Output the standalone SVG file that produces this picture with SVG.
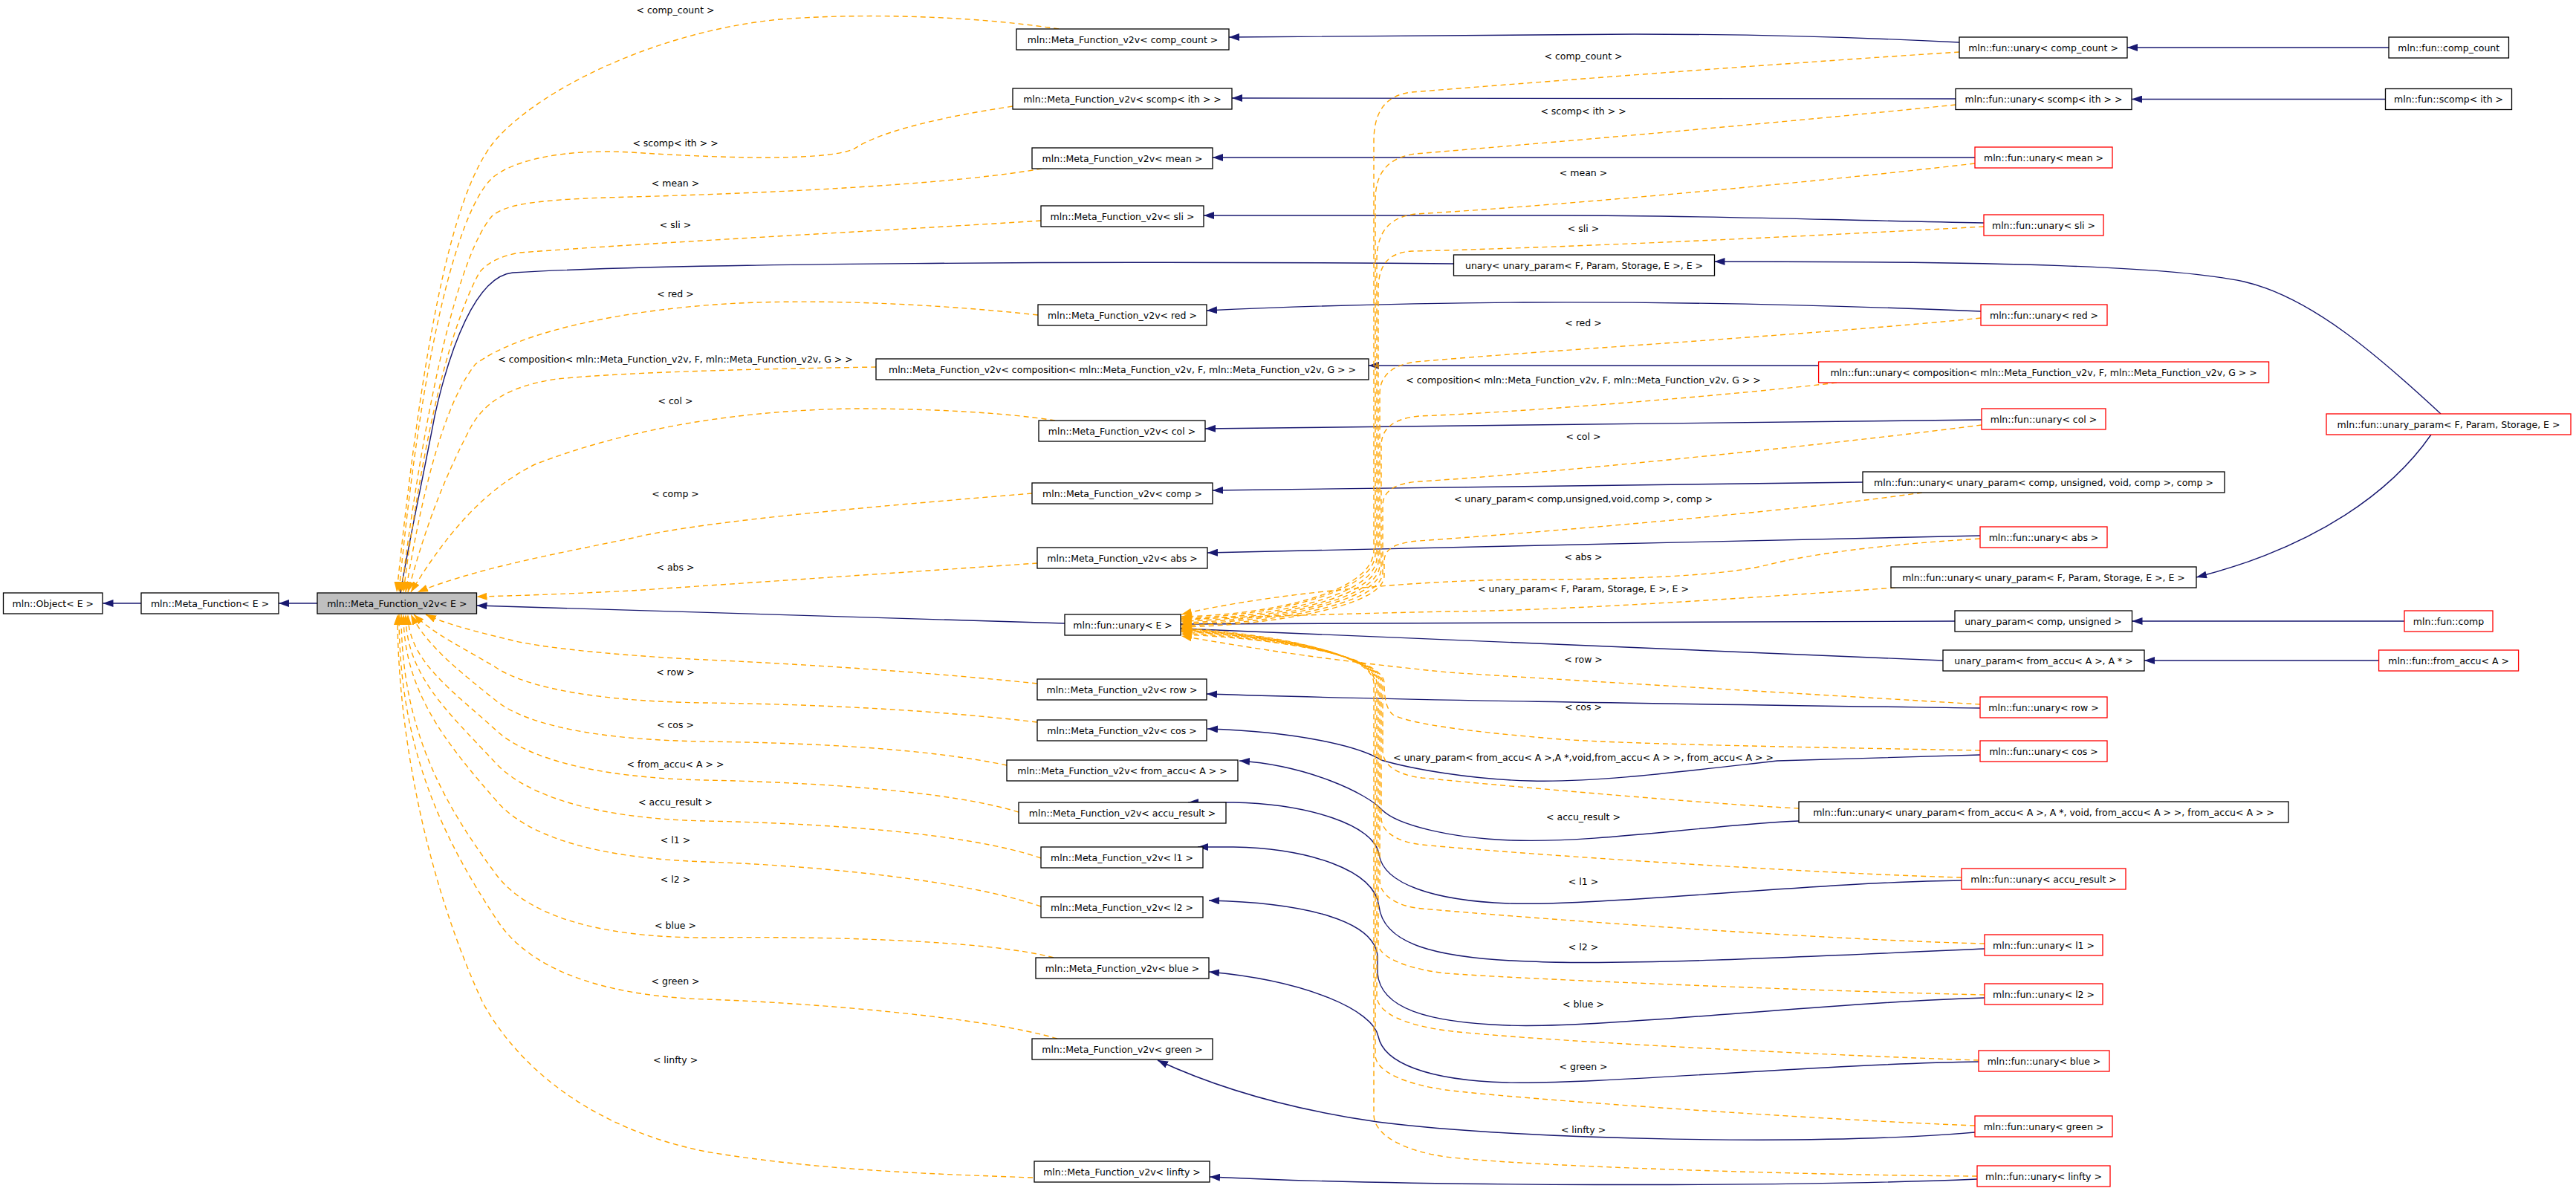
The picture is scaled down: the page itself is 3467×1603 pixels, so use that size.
<svg xmlns="http://www.w3.org/2000/svg" width="3467" height="1603" viewBox="0 0 3467 1603">
<style>
.n rect{fill:#fff;stroke:#000;stroke-width:1.3}
.n.r rect{stroke:#ff0000}
.n.g rect{fill:#bfbfbf}
text{font-family:"DejaVu Sans","Liberation Sans",sans-serif;font-size:12.5px;fill:#000;text-anchor:middle}
.b{fill:none;stroke:#191970;stroke-width:1.4;marker-end:url(#ab)}
.t{fill:none;stroke:#ffa500;stroke-width:1.4;stroke-dasharray:7,5;marker-end:url(#ao)}
</style>
<defs>
<marker id="ab" markerWidth="14" markerHeight="10" refX="14" refY="5" orient="auto" markerUnits="userSpaceOnUse"><path d="M0,0 L14,5 L0,10 z" fill="#191970"/></marker>
<marker id="ao" markerWidth="14" markerHeight="10" refX="14" refY="5" orient="auto" markerUnits="userSpaceOnUse"><path d="M0,0 L14,5 L0,10 z" fill="#ffa500"/></marker>
</defs>
<rect width="3467" height="1603" fill="#fff"/>
<g id="edges">
<path class="b" d="M190,812 L138.5,812"/>
<path class="b" d="M427,812 L375,812"/>
<path class="b" d="M1433,839 L641.5,815"/>
<path class="b" d="M1956.5,355 C1500,351 900,354 690,367 C640,372 605,470 585,560 C570,640 548,740 539,798"/>
<path class="b" d="M2637,57 C2500,50 2350,46 2200,46 L1654,50"/>
<path class="b" d="M2632,133 L1658,132"/>
<path class="b" d="M2658,212 L1632,212"/>
<path class="b" d="M2670,300 C2450,296 2300,290 2100,290 L1620,290"/>
<path class="b" d="M2666,419 C2450,410 2250,406 2050,407 C1900,408 1750,412 1624,418"/>
<path class="b" d="M2447.6,492 L1842,492"/>
<path class="b" d="M2667,565 L1622,577"/>
<path class="b" d="M2507,649 L1632,660"/>
<path class="b" d="M2665,721 L1625,744"/>
<path class="b" d="M3285,557 C3200,478 3110,400 3020,379 C2920,358 2700,352 2307.5,352"/>
<path class="b" d="M3272,585 C3220,660 3120,735 2956,777"/>
<path class="b" d="M3236,836 L2869.5,836"/>
<path class="b" d="M3201.6,889 L2886,889"/>
<path class="b" d="M3215,64 L2863,64"/>
<path class="b" d="M3210.5,133.5 L2869,133.5"/>
<path class="b" d="M2631,836 L1589,840"/>
<path class="b" d="M2615,889 L1589,846"/>
<path class="b" d="M2665,953 C2300,948 1900,943 1624,934"/>
<path class="b" d="M2665,1016 L2392,1024 C2250,1040 2150,1053 2060,1051 C1980,1049 1900,1035 1859,1023 C1830,1005 1750,985 1625,981"/>
<path class="b" d="M2421,1105 C2300,1110 2150,1135 2035,1131 C1950,1128 1880,1110 1860,1090 C1840,1068 1760,1030 1668,1024"/>
<path class="b" d="M2640,1185 C2450,1187 2150,1220 2030,1216 C1930,1212 1862,1190 1856,1150 C1850,1110 1760,1082 1660,1080 L1599,1080"/>
<path class="b" d="M2671,1277 C2450,1287 2180,1300 2060,1294 C1930,1290 1862,1270 1856,1220 C1850,1170 1760,1142 1660,1140 L1612,1140"/>
<path class="b" d="M2671,1343 C2450,1350 2150,1385 2028,1380 C1920,1376 1858,1357 1854,1310 L1854,1287 C1850,1240 1760,1215 1627,1212"/>
<path class="b" d="M2663,1429 C2450,1432 2150,1460 2028,1457 C1920,1454 1862,1430 1855,1395 C1848,1360 1760,1320 1627,1308"/>
<path class="b" d="M2658,1524 C2450,1542 2050,1535 1854,1510 C1750,1495 1650,1470 1558,1427"/>
<path class="b" d="M2661,1587 C2400,1598 1900,1597 1628,1584"/>

<path class="t" d="M1425,39 C1300,20 1150,18 1050,26 C900,40 740,110 670,185 C610,250 570,450 534,797"/>
<path class="t" d="M1363,143 C1250,160 1180,180 1150,200 C1120,215 1000,215 850,205 C760,200 690,215 662,240 C620,280 570,450 537,797"/>
<path class="t" d="M1402,227 C1300,245 1100,258 850,265 C720,268 680,275 662,291 C620,340 575,520 540,797"/>
<path class="t" d="M1401,297 C1200,310 900,325 700,340 C670,345 655,355 645,367 C600,450 565,620 543,797"/>
<path class="t" d="M1397,424 C1250,408 1100,403 995,408 C850,415 700,445 640,490 C600,540 570,650 546,797"/>
<path class="t" d="M1179,494 C1050,496 850,500 750,510 C680,520 650,545 633,576 C600,640 575,700 549,797"/>
<path class="t" d="M1420,566 C1350,555 1250,550 1150,550 C1000,552 850,575 720,625 C650,660 600,720 553,797"/>
<path class="t" d="M1389,664 C1200,680 950,700 852,724 C750,745 640,765 562,797"/>
<path class="t" d="M1396,758 C1250,768 1000,785 850,795 C750,800 690,802 641.5,803"/>
<path class="t" d="M1396,920 C1250,905 1100,895 950,888 C820,882 720,870 690,862 C640,850 600,840 573,827"/>
<path class="t" d="M1396,972 C1250,955 1100,948 950,946 C800,944 710,925 670,900 C630,875 585,855 557,827"/>
<path class="t" d="M1355,1030 C1250,1008 1100,1000 950,998 C800,996 710,975 670,945 C620,905 575,870 553,827"/>
<path class="t" d="M1371,1093 C1280,1065 1100,1053 950,1050 C800,1047 710,1020 670,985 C610,930 549,890 549,827"/>
<path class="t" d="M1401,1155 C1300,1120 1100,1108 950,1105 C800,1102 710,1070 670,1030 C605,960 546,910 546,827"/>
<path class="t" d="M1401,1220 C1300,1185 1100,1165 950,1160 C800,1155 710,1125 670,1080 C600,1000 543,930 543,827"/>
<path class="t" d="M1418,1289 C1330,1265 1100,1260 950,1262 C800,1262 710,1230 670,1180 C595,1080 540,980 540,827"/>
<path class="t" d="M1423,1398 C1330,1370 1100,1350 950,1345 C800,1340 710,1300 670,1240 C590,1120 537,1000 537,827"/>
<path class="t" d="M1390,1585 C1250,1580 1100,1575 950,1550 C800,1520 700,1440 650,1350 C580,1200 535,1000 535,827"/>

<path class="t" d="M2637,70 C2400,85 2050,112 1900,124 C1865,128 1849,150 1849,190 L1849,740 C1849,800 1700,828 1590,830"/>
<path class="t" d="M2632,141 C2400,165 2050,195 1905,207 C1870,212 1851,230 1851,270 L1851,745 C1851,800 1700,830 1590,832"/>
<path class="t" d="M2658,220 C2400,250 2050,280 1905,288 C1872,292 1853,310 1853,350 L1853,750 C1853,805 1700,832 1590,834"/>
<path class="t" d="M2670,305 C2400,320 2050,335 1900,338 C1870,340 1855,355 1855,390 L1855,755 C1855,808 1700,834 1590,836"/>
<path class="t" d="M2666,428 C2450,450 2100,470 1905,487 C1875,491 1857,505 1857,530 L1857,760 C1857,810 1700,836 1590,838"/>
<path class="t" d="M2472,515 C2350,530 2050,555 1910,560 C1878,563 1859,575 1859,600 L1859,765 C1859,812 1700,838 1590,840"/>
<path class="t" d="M2667,572 C2450,600 2050,640 1910,648 C1880,650 1861,660 1861,680 L1861,770 C1861,815 1700,840 1590,842"/>
<path class="t" d="M2587,663 C2400,690 2050,718 1910,728 C1880,730 1863,738 1863,755 L1863,775 C1863,818 1700,842 1590,844"/>
<path class="t" d="M2665,725 C2500,735 2420,750 2380,760 C2320,775 2200,780 2050,780 C1900,781 1700,800 1590,827"/>
<path class="t" d="M2551,791 C2350,805 2100,822 1950,823 C1800,826 1700,830 1590,833"/>
<path class="t" d="M2665,948 C2450,935 2100,915 1950,905 C1800,890 1700,875 1590,856"/>
<path class="t" d="M2665,1010 C2450,1006 2200,1002 2100,995 C1980,985 1900,975 1875,962 C1866,955 1863,940 1863,920 C1863,880 1700,858 1590,854"/>
<path class="t" d="M2421,1088 C2300,1082 2050,1060 1914,1047 C1880,1043 1861,1030 1861,1010 L1861,920 C1861,880 1700,858 1590,852"/>
<path class="t" d="M2640,1181 C2450,1176 2050,1150 1914,1137 C1880,1133 1859,1120 1859,1100 L1859,920 C1859,880 1700,856 1590,850"/>
<path class="t" d="M2671,1270 C2450,1265 2050,1235 1914,1223 C1880,1220 1857,1205 1857,1185 L1857,920 C1857,880 1700,856 1590,849"/>
<path class="t" d="M2671,1339 C2450,1334 2050,1318 1946,1310 C1900,1305 1855,1290 1855,1270 L1855,920 C1855,878 1700,855 1590,848"/>
<path class="t" d="M2663,1427 C2450,1420 2050,1400 1946,1387 C1895,1380 1853,1365 1853,1340 L1853,920 C1853,878 1700,855 1590,847"/>
<path class="t" d="M2658,1515 C2450,1507 2050,1480 1946,1467 C1895,1460 1851,1443 1851,1420 L1851,920 C1851,876 1700,854 1590,846"/>
<path class="t" d="M2661,1583 C2450,1582 2050,1570 1946,1557 C1895,1550 1849,1530 1849,1500 L1849,920 C1849,876 1700,853 1590,845"/>
</g>
<g id="edge-labels">
<text x="909" y="17.5">&lt; comp_count &gt;</text>
<text x="909" y="196.5">&lt; scomp&lt; ith &gt; &gt;</text>
<text x="909" y="250.5">&lt; mean &gt;</text>
<text x="909" y="306.5">&lt; sli &gt;</text>
<text x="909" y="399.5">&lt; red &gt;</text>
<text x="909" y="487.5">&lt; composition&lt; mln::Meta_Function_v2v, F, mln::Meta_Function_v2v, G &gt; &gt;</text>
<text x="909" y="543.5">&lt; col &gt;</text>
<text x="909" y="668.5">&lt; comp &gt;</text>
<text x="909" y="767.5">&lt; abs &gt;</text>
<text x="909" y="908.5">&lt; row &gt;</text>
<text x="909" y="979.5">&lt; cos &gt;</text>
<text x="909" y="1032.5">&lt; from_accu&lt; A &gt; &gt;</text>
<text x="909" y="1083.5">&lt; accu_result &gt;</text>
<text x="909" y="1134.5">&lt; l1 &gt;</text>
<text x="909" y="1187.5">&lt; l2 &gt;</text>
<text x="909" y="1249.5">&lt; blue &gt;</text>
<text x="909" y="1324.5">&lt; green &gt;</text>
<text x="909" y="1430.5">&lt; linfty &gt;</text>
<text x="2131" y="79.5">&lt; comp_count &gt;</text>
<text x="2131" y="153.5">&lt; scomp&lt; ith &gt; &gt;</text>
<text x="2131" y="236.5">&lt; mean &gt;</text>
<text x="2131" y="311.5">&lt; sli &gt;</text>
<text x="2131" y="438.5">&lt; red &gt;</text>
<text x="2131" y="515.5">&lt; composition&lt; mln::Meta_Function_v2v, F, mln::Meta_Function_v2v, G &gt; &gt;</text>
<text x="2131" y="591.5">&lt; col &gt;</text>
<text x="2131" y="675.5">&lt; unary_param&lt; comp,unsigned,void,comp &gt;, comp &gt;</text>
<text x="2131" y="753.5">&lt; abs &gt;</text>
<text x="2131" y="796.5">&lt; unary_param&lt; F, Param, Storage, E &gt;, E &gt;</text>
<text x="2131" y="891.5">&lt; row &gt;</text>
<text x="2131" y="955.5">&lt; cos &gt;</text>
<text x="2131" y="1023.5">&lt; unary_param&lt; from_accu&lt; A &gt;,A *,void,from_accu&lt; A &gt; &gt;, from_accu&lt; A &gt; &gt;</text>
<text x="2131" y="1103.5">&lt; accu_result &gt;</text>
<text x="2131" y="1190.5">&lt; l1 &gt;</text>
<text x="2131" y="1278.5">&lt; l2 &gt;</text>
<text x="2131" y="1355.5">&lt; blue &gt;</text>
<text x="2131" y="1439.5">&lt; green &gt;</text>
<text x="2131" y="1524.5">&lt; linfty &gt;</text>
</g>
<g id="n_object" class="n"><rect x="4.5" y="798" width="133.5" height="28"/><text x="71.25" y="816.5">mln::Object&lt; E &gt;</text></g>
<g id="n_meta_function" class="n"><rect x="190" y="798" width="185" height="28"/><text x="282.5" y="816.5">mln::Meta_Function&lt; E &gt;</text></g>
<g id="n_v2v" class="n g"><rect x="427" y="798" width="214.5" height="28"/><text x="534.25" y="816.5">mln::Meta_Function_v2v&lt; E &gt;</text></g>
<g id="n_mv_comp_count" class="n"><rect x="1368" y="39" width="286" height="28"/><text x="1511" y="57.5">mln::Meta_Function_v2v&lt; comp_count &gt;</text></g>
<g id="n_mv_scomp" class="n"><rect x="1363" y="119" width="295" height="28"/><text x="1510.5" y="137.5">mln::Meta_Function_v2v&lt; scomp&lt; ith &gt; &gt;</text></g>
<g id="n_mv_mean" class="n"><rect x="1389" y="199" width="243" height="28"/><text x="1510.5" y="217.5">mln::Meta_Function_v2v&lt; mean &gt;</text></g>
<g id="n_mv_sli" class="n"><rect x="1401" y="277" width="219" height="28"/><text x="1510.5" y="295.5">mln::Meta_Function_v2v&lt; sli &gt;</text></g>
<g id="n_mv_red" class="n"><rect x="1397" y="410" width="227" height="28"/><text x="1510.5" y="428.5">mln::Meta_Function_v2v&lt; red &gt;</text></g>
<g id="n_mv_composition" class="n"><rect x="1179" y="483" width="663" height="28"/><text x="1510.5" y="501.5">mln::Meta_Function_v2v&lt; composition&lt; mln::Meta_Function_v2v, F, mln::Meta_Function_v2v, G &gt; &gt;</text></g>
<g id="n_mv_col" class="n"><rect x="1398" y="566" width="224" height="28"/><text x="1510" y="584.5">mln::Meta_Function_v2v&lt; col &gt;</text></g>
<g id="n_mv_comp" class="n"><rect x="1389" y="650" width="243" height="28"/><text x="1510.5" y="668.5">mln::Meta_Function_v2v&lt; comp &gt;</text></g>
<g id="n_mv_abs" class="n"><rect x="1396" y="737" width="229" height="28"/><text x="1510.5" y="755.5">mln::Meta_Function_v2v&lt; abs &gt;</text></g>
<g id="n_unary_E" class="n"><rect x="1433" y="827" width="156" height="28"/><text x="1511" y="845.5">mln::fun::unary&lt; E &gt;</text></g>
<g id="n_mv_row" class="n"><rect x="1396" y="914" width="228" height="28"/><text x="1510" y="932.5">mln::Meta_Function_v2v&lt; row &gt;</text></g>
<g id="n_mv_cos" class="n"><rect x="1396" y="969" width="228" height="28"/><text x="1510" y="987.5">mln::Meta_Function_v2v&lt; cos &gt;</text></g>
<g id="n_mv_from_accu" class="n"><rect x="1355" y="1023" width="311" height="28"/><text x="1510.5" y="1041.5">mln::Meta_Function_v2v&lt; from_accu&lt; A &gt; &gt;</text></g>
<g id="n_mv_accu_result" class="n"><rect x="1371" y="1080" width="279" height="28"/><text x="1510.5" y="1098.5">mln::Meta_Function_v2v&lt; accu_result &gt;</text></g>
<g id="n_mv_l1" class="n"><rect x="1401" y="1140" width="218" height="28"/><text x="1510" y="1158.5">mln::Meta_Function_v2v&lt; l1 &gt;</text></g>
<g id="n_mv_l2" class="n"><rect x="1401" y="1207" width="218" height="28"/><text x="1510" y="1225.5">mln::Meta_Function_v2v&lt; l2 &gt;</text></g>
<g id="n_mv_blue" class="n"><rect x="1394" y="1289" width="233" height="28"/><text x="1510.5" y="1307.5">mln::Meta_Function_v2v&lt; blue &gt;</text></g>
<g id="n_mv_green" class="n"><rect x="1389" y="1398" width="243" height="28"/><text x="1510.5" y="1416.5">mln::Meta_Function_v2v&lt; green &gt;</text></g>
<g id="n_mv_linfty" class="n"><rect x="1392" y="1563" width="236" height="28"/><text x="1510" y="1581.5">mln::Meta_Function_v2v&lt; linfty &gt;</text></g>
<g id="n_uup" class="n"><rect x="1956.5" y="343" width="351" height="28"/><text x="2132" y="361.5">unary&lt; unary_param&lt; F, Param, Storage, E &gt;, E &gt;</text></g>
<g id="n_u_comp_count" class="n"><rect x="2637" y="50" width="226" height="28"/><text x="2750" y="68.5">mln::fun::unary&lt; comp_count &gt;</text></g>
<g id="n_u_scomp" class="n"><rect x="2632" y="119.5" width="237" height="28"/><text x="2750.5" y="138">mln::fun::unary&lt; scomp&lt; ith &gt; &gt;</text></g>
<g id="n_u_mean" class="n r"><rect x="2658" y="198" width="185" height="28"/><text x="2750.5" y="216.5">mln::fun::unary&lt; mean &gt;</text></g>
<g id="n_u_sli" class="n r"><rect x="2670" y="289" width="161" height="28"/><text x="2750.5" y="307.5">mln::fun::unary&lt; sli &gt;</text></g>
<g id="n_u_red" class="n r"><rect x="2666" y="410" width="170" height="28"/><text x="2751" y="428.5">mln::fun::unary&lt; red &gt;</text></g>
<g id="n_u_composition" class="n r"><rect x="2447.6" y="487" width="606" height="28"/><text x="2750.6" y="505.5">mln::fun::unary&lt; composition&lt; mln::Meta_Function_v2v, F, mln::Meta_Function_v2v, G &gt; &gt;</text></g>
<g id="n_u_col" class="n r"><rect x="2667" y="550" width="167" height="28"/><text x="2750.5" y="568.5">mln::fun::unary&lt; col &gt;</text></g>
<g id="n_u_up_comp" class="n"><rect x="2507" y="635" width="487" height="28"/><text x="2750.5" y="653.5">mln::fun::unary&lt; unary_param&lt; comp, unsigned, void, comp &gt;, comp &gt;</text></g>
<g id="n_u_abs" class="n r"><rect x="2665" y="709" width="171" height="28"/><text x="2750.5" y="727.5">mln::fun::unary&lt; abs &gt;</text></g>
<g id="n_u_up_F" class="n"><rect x="2545" y="763" width="411" height="28"/><text x="2750.5" y="781.5">mln::fun::unary&lt; unary_param&lt; F, Param, Storage, E &gt;, E &gt;</text></g>
<g id="n_up_comp_unsigned" class="n"><rect x="2631" y="822" width="238.5" height="28"/><text x="2750" y="840.5">unary_param&lt; comp, unsigned &gt;</text></g>
<g id="n_up_from_accu" class="n"><rect x="2615" y="875" width="271" height="28"/><text x="2750.5" y="893.5">unary_param&lt; from_accu&lt; A &gt;, A * &gt;</text></g>
<g id="n_u_row" class="n r"><rect x="2665" y="938" width="171" height="28"/><text x="2750.5" y="956.5">mln::fun::unary&lt; row &gt;</text></g>
<g id="n_u_cos" class="n r"><rect x="2665" y="997" width="171" height="28"/><text x="2750.5" y="1015.5">mln::fun::unary&lt; cos &gt;</text></g>
<g id="n_u_up_from_accu" class="n"><rect x="2421" y="1079" width="659" height="28"/><text x="2750.5" y="1097.5">mln::fun::unary&lt; unary_param&lt; from_accu&lt; A &gt;, A *, void, from_accu&lt; A &gt; &gt;, from_accu&lt; A &gt; &gt;</text></g>
<g id="n_u_accu_result" class="n r"><rect x="2640" y="1169" width="221" height="28"/><text x="2750.5" y="1187.5">mln::fun::unary&lt; accu_result &gt;</text></g>
<g id="n_u_l1" class="n r"><rect x="2671" y="1258" width="159" height="28"/><text x="2750.5" y="1276.5">mln::fun::unary&lt; l1 &gt;</text></g>
<g id="n_u_l2" class="n r"><rect x="2671" y="1324" width="159" height="28"/><text x="2750.5" y="1342.5">mln::fun::unary&lt; l2 &gt;</text></g>
<g id="n_u_blue" class="n r"><rect x="2663" y="1414" width="176" height="28"/><text x="2751" y="1432.5">mln::fun::unary&lt; blue &gt;</text></g>
<g id="n_u_green" class="n r"><rect x="2658" y="1502" width="185" height="28"/><text x="2750.5" y="1520.5">mln::fun::unary&lt; green &gt;</text></g>
<g id="n_u_linfty" class="n r"><rect x="2661" y="1569" width="179" height="28"/><text x="2750.5" y="1587.5">mln::fun::unary&lt; linfty &gt;</text></g>
<g id="n_comp_count" class="n"><rect x="3215" y="50" width="161.5" height="28"/><text x="3295.75" y="68.5">mln::fun::comp_count</text></g>
<g id="n_scomp" class="n"><rect x="3210.5" y="119.5" width="170" height="28"/><text x="3295.5" y="138">mln::fun::scomp&lt; ith &gt;</text></g>
<g id="n_unary_param_F" class="n r"><rect x="3131" y="557" width="329" height="28"/><text x="3295.5" y="575.5">mln::fun::unary_param&lt; F, Param, Storage, E &gt;</text></g>
<g id="n_comp" class="n r"><rect x="3236" y="822" width="119" height="28"/><text x="3295.5" y="840.5">mln::fun::comp</text></g>
<g id="n_from_accu" class="n r"><rect x="3201.6" y="875" width="188" height="28"/><text x="3295.6" y="893.5">mln::fun::from_accu&lt; A &gt;</text></g>
</svg>
